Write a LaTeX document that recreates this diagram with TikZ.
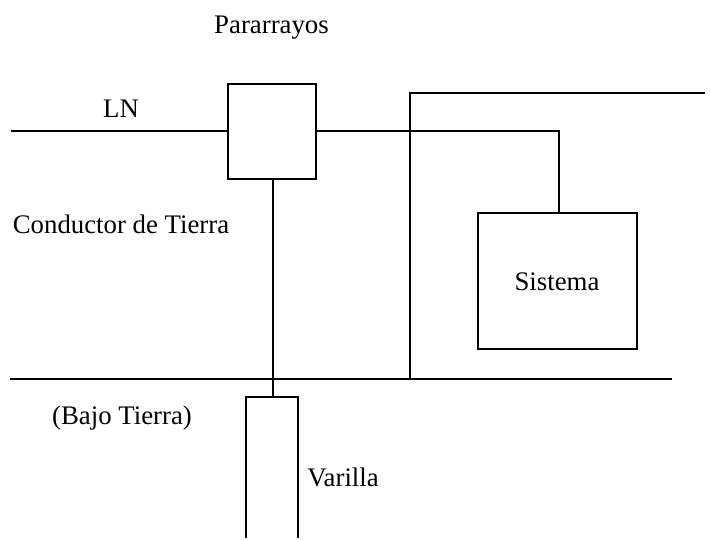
\documentclass[tikz,border=0pt]{standalone}
\usepackage{fontspec}
\setmainfont{Liberation Serif}
\tikzset{wire/.style={draw=black,line width=1.5pt},
box/.style={draw=black,line width=1.5pt,fill=white,inner sep=0pt,anchor=north west,outer sep=0pt},
lbl/.style={inner sep=0pt,anchor=base,font=\fontsize{20.1}{24}\selectfont,text=black}}
\begin{document}
\begin{tikzpicture}[x=0.75pt,y=-0.75pt]
\useasboundingbox[fill=white] (0,0) rectangle (710,539);
\coordinate (lnstart) at (11,131);
\coordinate (topend) at (705,93);
\coordinate (gl) at (10,379);
\coordinate (gr) at (672,379);
\coordinate (tcorner) at (410,93);
\coordinate (tbase) at (410,379);
\coordinate (scorner) at (559,131);
\coordinate (vtop) at (273.3,397.3);
\coordinate (vl) at (245.8,397.3);
\coordinate (vr) at (298,397.3);
\coordinate (vlb) at (245.8,538);
\coordinate (vrb) at (298,538);
\node[box,minimum width=66.2pt,minimum height=71.6pt] (par) at (227.7,83.7) {};
\node[box,minimum width=119.4pt,minimum height=101.8pt] (sis) at (477.8,213.3) {};
\draw[wire] (lnstart) -- (par.west |- lnstart);
\draw[wire] (par.east |- lnstart) -- (scorner) -- (scorner |- sis.north);
\draw[wire] (tbase) -- (tcorner) -- (topend);
\draw[wire] (gl) -- (gr);
\draw[wire] (par.south -| vtop) -- (vtop);
\draw[wire] (vlb) -- (vl) -- (vr) -- (vrb);
\node[lbl] (t1) at (271.5,33.5) {Pararrayos};
\node[lbl] (t2) at (121,117.5) {LN};
\node[lbl] (t3) at (121,233) {Conductor de Tierra};
\node[lbl] (t4) at (557,290) {Sistema};
\node[lbl] (t5) at (122,424) {(Bajo Tierra)};
\node[lbl] (t6) at (343,486) {Varilla};
\end{tikzpicture}
\end{document}
